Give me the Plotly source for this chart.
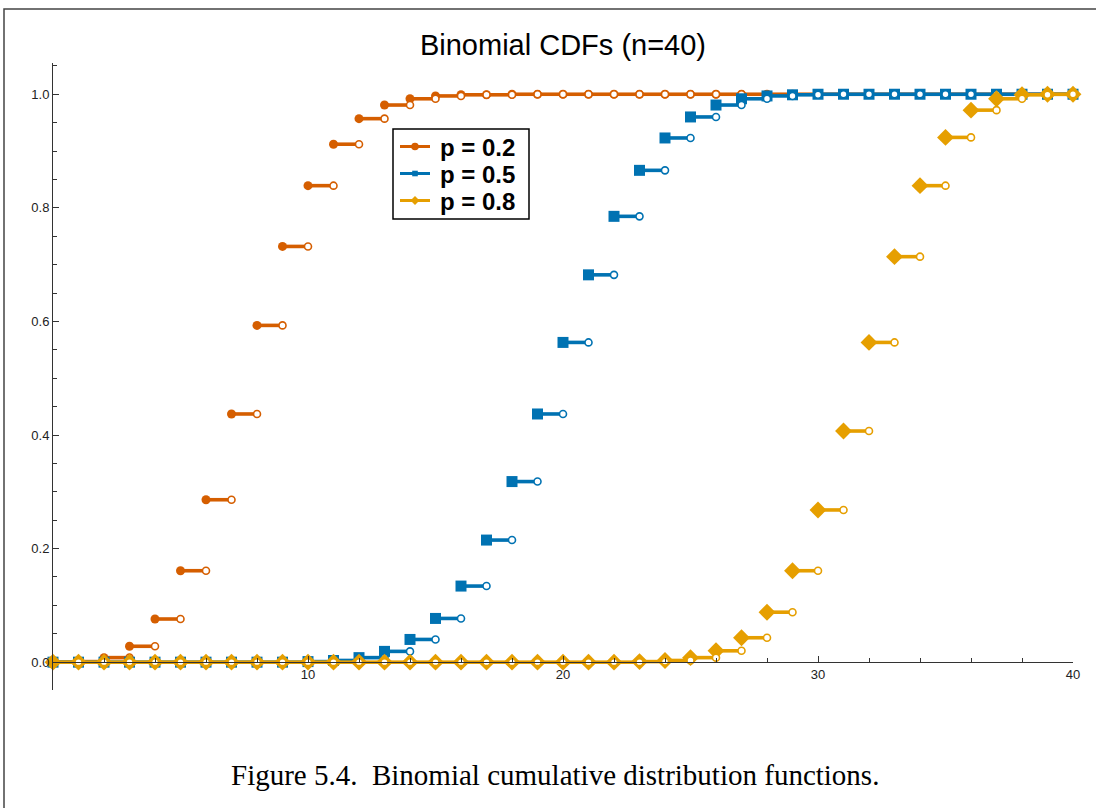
import plotly.graph_objects as go

# ---------------- data ----------------
k_values = list(range(41))

cdf_p02 = [0.000, 0.001, 0.008, 0.028, 0.076, 0.161, 0.286, 0.437, 0.593, 0.732,
           0.839, 0.912, 0.957, 0.981, 0.992, 0.997, 0.999, 0.999, 1.000, 1.000,
           1.000, 1.000, 1.000, 1.000, 1.000, 1.000, 1.000, 1.000, 1.000, 1.000,
           1.000, 1.000, 1.000, 1.000, 1.000, 1.000, 1.000, 1.000, 1.000, 1.000,
           1.000]

cdf_p05 = [0.000, 0.000, 0.000, 0.000, 0.000, 0.000, 0.000, 0.000, 0.000, 0.000,
           0.001, 0.003, 0.008, 0.019, 0.040, 0.077, 0.134, 0.215, 0.318, 0.437,
           0.563, 0.682, 0.785, 0.866, 0.923, 0.960, 0.981, 0.992, 0.997, 0.999,
           1.000, 1.000, 1.000, 1.000, 1.000, 1.000, 1.000, 1.000, 1.000, 1.000,
           1.000]

cdf_p08 = [0.000, 0.000, 0.000, 0.000, 0.000, 0.000, 0.000, 0.000, 0.000, 0.000,
           0.000, 0.000, 0.000, 0.000, 0.000, 0.000, 0.000, 0.000, 0.000, 0.000,
           0.000, 0.000, 0.000, 0.001, 0.003, 0.008, 0.020, 0.043, 0.088, 0.161,
           0.268, 0.407, 0.563, 0.714, 0.839, 0.924, 0.972, 0.992, 0.999, 1.000,
           1.000]

series_names = ["p = 0.2", "p = 0.5", "p = 0.8"]
x_tick_vals = [10, 20, 30, 40]
y_tick_vals = [0.0, 0.2, 0.4, 0.6, 0.8, 1.0]
y_tick_text = ["0.0", "0.2", "0.4", "0.6", "0.8", "1.0"]

# ---------------- styles ----------------
W, H = 1096, 808
ML, MR, MT, MB = 53, 23, 63, 118
PW, PH = W - ML - MR, H - MT - MB

def px_x(p):   # pixel -> paper x
    return (p - ML) / PW

def px_y(p):   # pixel -> paper y
    return (H - MB - p) / PH

colors = ["#D55E00", "#0072B2", "#E69F00"]
symbols = ["circle", "square", "diamond"]
fill_sizes = [9, 11, 13]

fig = go.Figure()

for name, cdf, col, sym, fs in zip(series_names, [cdf_p02, cdf_p05, cdf_p08],
                                   colors, symbols, fill_sizes):
    seg_x, seg_y = [], []
    for k in k_values[:-1]:
        seg_x += [k, k + 1, None]
        seg_y += [cdf[k], cdf[k], None]
    fig.add_trace(go.Scatter(x=seg_x, y=seg_y, mode="lines", name=name,
                             line=dict(color=col, width=3.6),
                             showlegend=False, hoverinfo="skip", cliponaxis=False))
    fig.add_trace(go.Scatter(x=k_values, y=cdf, mode="markers", name=name,
                             marker=dict(symbol=sym, size=fs, color=col,
                                         line=dict(width=0)),
                             showlegend=False, cliponaxis=False))
    fig.add_trace(go.Scatter(x=[k + 1 for k in k_values[:-1]], y=cdf[:-1], mode="markers",
                             name=name,
                             marker=dict(symbol="circle", size=7, color="white",
                                         line=dict(color=col, width=1.6)),
                             showlegend=False, cliponaxis=False))

# ---------------- legend (drawn as shapes + text) ----------------
shapes = [dict(type="rect", xref="paper", yref="paper",
               x0=px_x(4), x1=1.2, y0=-0.3, y1=px_y(9),
               line=dict(color="#444444", width=1.5), fillcolor="rgba(0,0,0,0)",
               layer="below"),
          dict(type="rect", xref="paper", yref="paper",
               x0=px_x(393), x1=px_x(529), y0=px_y(219), y1=px_y(129),
               line=dict(color="black", width=1.5), fillcolor="white", layer="above")]
annotations = []
row_y = [146.5, 173.5, 200.5]
lx0, lx1, lxc = 400, 430, 415
for name, col, sym, ry in zip(series_names, colors, symbols, row_y):
    shapes.append(dict(type="line", xref="paper", yref="paper",
                       x0=px_x(lx0), x1=px_x(lx1), y0=px_y(ry), y1=px_y(ry),
                       line=dict(color=col, width=3), layer="above"))
    if sym == "circle":
        r = 3.8
        shapes.append(dict(type="circle", xref="paper", yref="paper",
                           x0=px_x(lxc - r), x1=px_x(lxc + r),
                           y0=px_y(ry + r), y1=px_y(ry - r),
                           line=dict(width=0), fillcolor=col, layer="above"))
    elif sym == "square":
        r = 2.8
        shapes.append(dict(type="rect", xref="paper", yref="paper",
                           x0=px_x(lxc - r), x1=px_x(lxc + r),
                           y0=px_y(ry + r), y1=px_y(ry - r),
                           line=dict(width=0), fillcolor=col, layer="above"))
    else:
        r = 4.5
        path = "M {:.5f},{:.5f} L {:.5f},{:.5f} L {:.5f},{:.5f} L {:.5f},{:.5f} Z".format(
            px_x(lxc - r), px_y(ry), px_x(lxc), px_y(ry - r),
            px_x(lxc + r), px_y(ry), px_x(lxc), px_y(ry + r))
        shapes.append(dict(type="path", xref="paper", yref="paper", path=path,
                           line=dict(width=0), fillcolor=col, layer="above"))
    annotations.append(dict(text="<b>" + name + "</b>", xref="paper", yref="paper",
                            x=px_x(438), y=px_y(ry + 1), xanchor="left", yanchor="middle",
                            showarrow=False,
                            font=dict(family="Liberation Sans, Arial, sans-serif",
                                      size=24, color="black")))

annotations.append(dict(text="Figure 5.4.  Binomial cumulative distribution functions.",
                        xref="paper", yref="paper", x=px_x(555), y=px_y(775),
                        xanchor="center", yanchor="middle", showarrow=False,
                        font=dict(family="Liberation Serif, Times New Roman, serif",
                                  size=29, color="black")))

axis_col = "#333333"
fig.update_layout(
    width=W, height=H,
    margin=dict(l=ML, r=MR, t=MT, b=MB),
    paper_bgcolor="white", plot_bgcolor="white",
    showlegend=False,
    font=dict(family="Liberation Sans, Arial, sans-serif", color="#222222"),
    title=dict(text="Binomial CDFs (n=40)", x=0.5, xref="paper", xanchor="center",
               y=1 - 45 / H, yref="container", yanchor="middle",
               font=dict(family="Liberation Sans, Arial, sans-serif", size=29, color="black")),
    xaxis=dict(range=[0, 40], anchor="free", position=0.049 / 1.104,
               showline=True, linecolor=axis_col, linewidth=1,
               showgrid=False, zeroline=False,
               tickmode="array", tickvals=x_tick_vals,
               ticks="inside", ticklen=6, tickcolor=axis_col, tickwidth=1,
               tickfont=dict(size=13, color="#222222"),
               minor=dict(tickmode="linear", tick0=0, dtick=2, ticks="inside",
                          ticklen=4, tickcolor=axis_col, showgrid=False)),
    yaxis=dict(range=[-0.049, 1.055], showline=True, linecolor=axis_col, linewidth=1,
               showgrid=False, zeroline=False,
               tickmode="array", tickvals=y_tick_vals, ticktext=y_tick_text,
               ticks="inside", ticklen=6, tickcolor=axis_col, tickwidth=1,
               tickfont=dict(size=13, color="#222222"),
               minor=dict(tickmode="linear", tick0=0, dtick=0.05, ticks="inside",
                          ticklen=4, tickcolor=axis_col, showgrid=False)),
    shapes=shapes,
    annotations=annotations,
)

fig.write_html("out.html")
